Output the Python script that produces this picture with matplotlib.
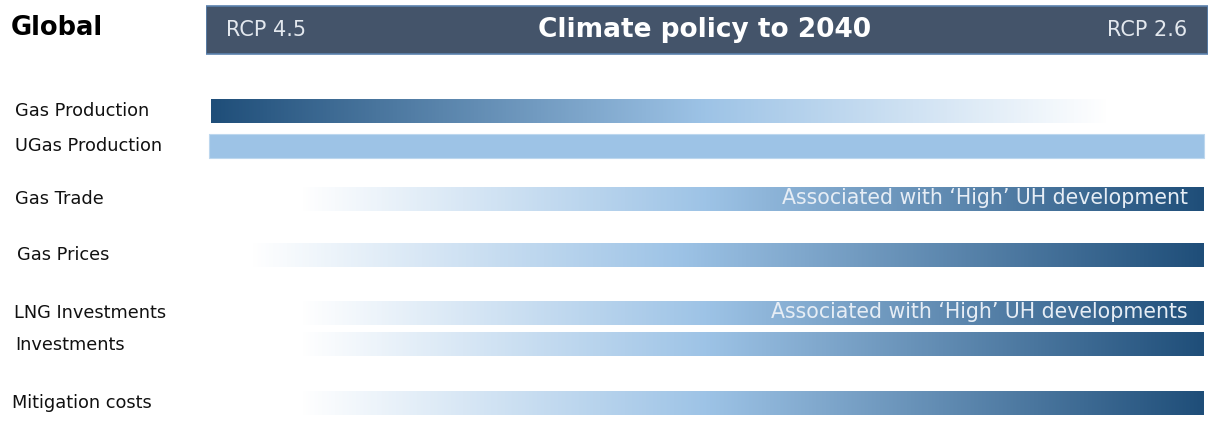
import matplotlib.pyplot as plt
import numpy as np
from matplotlib.colors import LinearSegmentedColormap
from matplotlib.patches import Rectangle

# Policy scale: 0 = RCP 4.5 (left), 100 = RCP 2.6 (right)
labels = ["Gas Production", "UGas Production", "Gas Trade", "Gas Prices",
          "LNG Investments", "Investments", "Mitigation costs"]
bar_start = [0.5, 0.3, 9.4, 4.4, 9.4, 9.4, 9.4]
bar_end = [90.1, 99.6, 99.6, 99.6, 99.6, 99.6, 99.6]
# "down" = strongest at RCP 4.5, "up" = strongest at RCP 2.6, "flat" = no change
trend = ["down", "flat", "up", "up", "up", "up", "up"]
notes = ["", "", "Associated with \u2018High\u2019 UH development", "",
         "Associated with \u2018High\u2019 UH developments", "", ""]

# row layout in pixels from the top of the figure
row_y = [111.3, 146.0, 198.7, 255.3, 312.8, 344.5, 403.5]
row_label_x = [15, 15, 15, 17, 14, 15, 12]
bar_h = 24

dark = "#1F4E79"
mid = "#9DC3E6"
cmap = LinearSegmentedColormap.from_list(
    "policy", [(0, "#FFFFFF"), (0.45, mid), (1, dark)])

W, H = 1211, 433
fig = plt.figure(figsize=(W / 100, H / 100), dpi=100)
x0, x1 = 206, 1208
ax = fig.add_axes([x0 / W, 0, (x1 - x0) / W, 1])
ax.set_xlim(0, 100)
ax.set_ylim(H, 0)
ax.axis("off")

# header banner
ax.add_patch(Rectangle((0, 5.5), 100, 48, facecolor="#44546A",
                       edgecolor="#5B82AE", linewidth=1.2, zorder=1))
ax.text(2.0, 30.5, "RCP 4.5", color="#E3E8EE", fontsize=15,
        va="center", ha="left", zorder=2)
ax.text(97.9, 30.5, "RCP 2.6", color="#E3E8EE", fontsize=15,
        va="center", ha="right", zorder=2)
ax.text(49.8, 30, "Climate policy to 2040", color="white", fontsize=19,
        fontweight="bold", va="center", ha="center", zorder=2)
fig.text(11 / W, 1 - 28 / H, "Global", fontsize=18.5, fontweight="bold",
         va="center", ha="left")

ramp = np.linspace(0, 1, 512).reshape(1, -1)
for i, lab in enumerate(labels):
    yc = row_y[i]
    top, bot = yc - bar_h / 2, yc + bar_h / 2
    if trend[i] == "flat":
        ax.add_patch(Rectangle((bar_start[i], top), bar_end[i] - bar_start[i],
                               bar_h, facecolor=mid, edgecolor="#BDD7EE",
                               linewidth=0.8, zorder=2))
    else:
        vals = ramp if trend[i] == "up" else ramp[:, ::-1]
        ax.imshow(vals, cmap=cmap, vmin=0, vmax=1, aspect="auto",
                  extent=(bar_start[i], bar_end[i], bot, top),
                  interpolation="bilinear", zorder=2)
    if notes[i]:
        ax.text(98.0, yc - 1, notes[i], color="#E6EDF5", fontsize=14.8,
                va="center", ha="right", zorder=3)
    fig.text(row_label_x[i] / W, 1 - yc / H, lab, fontsize=12.8,
             color="#111111", va="center", ha="left")

ax.set_xlim(0, 100)
ax.set_ylim(H, 0)
fig.savefig("out.png", dpi=100)
